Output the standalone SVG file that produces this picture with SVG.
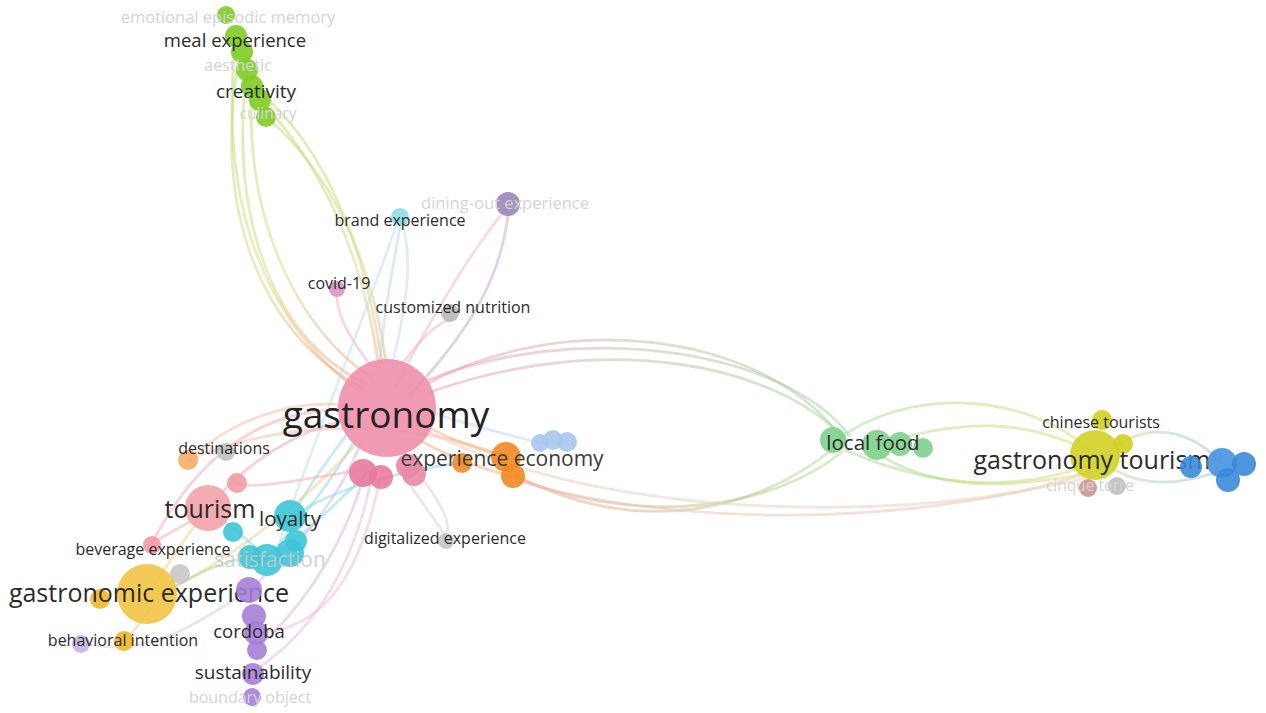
<svg xmlns="http://www.w3.org/2000/svg" width="1266" height="713" viewBox="0 0 1266 713">
<style>
.lbl{font-family:"Open Sans","Noto Sans","DejaVu Sans",sans-serif;fill:#2b2b2b;text-anchor:middle}
.fade{fill:#d4d4d4}
.e{fill:none;stroke-linecap:round;stroke-width:2.8;stroke-opacity:0.5}
.n{fill-opacity:0.9}
</style>
<defs>
<linearGradient id="gy" gradientUnits="userSpaceOnUse" x1="0" y1="90" x2="0" y2="400">
<stop offset="0" stop-color="#b9dc6a"/><stop offset="0.6" stop-color="#d9d88a"/><stop offset="1" stop-color="#f1a47e"/>
</linearGradient>
<linearGradient id="pg" gradientUnits="userSpaceOnUse" x1="420" y1="0" x2="850" y2="0">
<stop offset="0" stop-color="#ef9ab0"/><stop offset="1" stop-color="#9ed89a"/>
</linearGradient>
<linearGradient id="og" gradientUnits="userSpaceOnUse" x1="510" y1="0" x2="840" y2="0">
<stop offset="0" stop-color="#f0a090"/><stop offset="1" stop-color="#a6dc8e"/>
</linearGradient>
<linearGradient id="gt" gradientUnits="userSpaceOnUse" x1="840" y1="0" x2="1100" y2="0">
<stop offset="0" stop-color="#9edc96"/><stop offset="1" stop-color="#dcdc70"/>
</linearGradient>
<linearGradient id="tb" gradientUnits="userSpaceOnUse" x1="1100" y1="0" x2="1225" y2="0">
<stop offset="0" stop-color="#cfdc80"/><stop offset="1" stop-color="#8cc0ea"/>
</linearGradient>
</defs>
<rect width="1266" height="713" fill="#ffffff"/>
<g id="connectors">
<path class="e" stroke="url(#gy)" d="M240 52 C212 200 255 330 362 388"/>
<path class="e" stroke="url(#gy)" d="M247 70 C228 220 275 340 366 384"/>
<path class="e" stroke="url(#gy)" d="M252 86 C244 220 298 330 372 378"/>
<path class="e" stroke="url(#gy)" d="M236 36 C218 200 262 320 360 392"/>
<path class="e" stroke="url(#gy)" stroke-width="3.5" d="M260 100 C318 160 362 250 378 362"/>
<path class="e" stroke="url(#gy)" stroke-width="3.5" d="M266 117 C330 170 372 260 386 362"/>
<path class="e" stroke="url(#gy)" d="M252 86 C335 150 368 270 382 362"/>
<path class="e" stroke="url(#pg)" d="M425 385 C560 310 760 330 840 436"/>
<path class="e" stroke="url(#pg)" d="M428 380 C570 322 780 345 850 436"/>
<path class="e" stroke="url(#pg)" d="M430 392 C600 332 772 360 846 440"/>
<path class="e" stroke="url(#og)" d="M515 475 C640 540 760 510 835 447"/>
<path class="e" stroke="url(#og)" d="M515 478 C660 532 780 502 842 452"/>
<path class="e" stroke="#eac6b6" stroke-opacity="0.35" d="M515 480 C700 535 950 520 1090 472"/>
<path class="e" stroke="#e6cfc0" stroke-opacity="0.3" d="M425 430 C600 520 900 525 1085 478"/>
<path class="e" stroke="url(#gt)" d="M838 440 C900 390 1020 388 1090 450"/>
<path class="e" stroke="url(#gt)" d="M878 445 C960 418 1030 418 1095 455"/>
<path class="e" stroke="url(#gt)" d="M845 450 C940 492 1020 490 1090 465"/>
<path class="e" stroke="url(#gt)" d="M880 455 C950 500 1050 482 1100 470"/>
<path class="e" stroke="url(#tb)" d="M1110 450 C1150 420 1190 430 1222 463"/>
<path class="e" stroke="url(#tb)" d="M1115 470 C1150 490 1190 482 1222 470"/>
<path class="e" stroke="#c7a6cf" stroke-width="3.5" d="M410 395 C470 330 500 280 508 215"/>
<path class="e" stroke="#f0b8c8" d="M395 388 C440 300 480 240 505 210"/>
<path class="e" stroke="#b8d8ea" d="M380 362 C385 300 395 260 400 226"/>
<path class="e" stroke="#c8d8ec" d="M392 365 C408 300 412 260 403 226"/>
<path class="e" stroke="#f2b0c8" d="M370 365 C352 340 338 320 337 297"/>
<path class="e" stroke="#e8b8c8" d="M402 364 C420 340 438 322 450 320"/>
<path class="e" stroke="#bfe0ec" stroke-opacity="0.3" d="M396 226 C360 330 310 450 280 540"/>
<path class="e" stroke="#f2a0b0" d="M345 420 C300 430 250 460 215 500"/>
<path class="e" stroke="#f6bc98" d="M345 405 C290 400 230 420 190 460"/>
<path class="e" stroke="#f6bc98" d="M505 457 C430 425 300 412 190 460"/>
<path class="e" stroke="#8ad8e4" d="M350 430 C320 470 300 500 292 517"/>
<path class="e" stroke="#8ad8e4" d="M355 440 C320 500 290 530 270 555"/>
<path class="e" stroke="#8ad8e4" d="M462 463 C400 470 330 490 292 517"/>
<path class="e" stroke="#8ad8e4" d="M370 470 C340 500 300 540 265 560"/>
<path class="e" stroke="#d2b6e8" d="M360 445 C330 520 280 560 250 590"/>
<path class="e" stroke="#d2b6e8" d="M365 472 C340 560 290 620 255 650"/>
<path class="e" stroke="#e2bde0" d="M372 475 C352 580 302 640 255 670"/>
<path class="e" stroke="#f0b8d0" d="M380 478 C360 580 320 630 258 633"/>
<path class="e" stroke="#f0d08a" d="M355 445 C300 510 200 580 150 597"/>
<path class="e" stroke="#f4a8b4" d="M340 410 C250 410 190 470 152 543"/>
<path class="e" stroke="#f4a8b4" d="M360 470 C300 480 250 490 237 483"/>
<path class="e" stroke="#c6d2f0" d="M540 443 C490 430 450 420 432 412"/>
<path class="e" stroke="#f4b07a" d="M425 425 C450 440 480 450 505 457"/>
<path class="e" stroke="#f4b07a" d="M420 440 C445 455 480 468 513 477"/>
<path class="e" stroke="#d4d4d4" d="M400 470 C420 500 435 520 445 535"/>
<path class="e" stroke="#d4d4d4" d="M415 470 C440 500 450 520 447 532"/>
<path class="e" stroke="#d8c8e8" d="M82 643 C150 660 200 620 250 590"/>
<path class="e" stroke="#f0d08a" d="M147 597 C170 560 190 530 207 510"/>
<path class="e" stroke="#f0d08a" d="M125 642 C150 610 165 590 180 573"/>
<path class="e" stroke="#8ad8e4" d="M207 510 C230 525 250 540 267 560"/>
<path class="e" stroke="#a8dca0" d="M170 590 C200 570 230 560 260 555"/>
<path class="e" stroke="#f4a8b4" d="M152 543 C175 530 195 520 207 510"/>
</g>
<g id="n-green-top">
<circle class="n" cx="226" cy="15" r="9" fill="#80cc24"/>
<circle class="n" cx="236" cy="36" r="11" fill="#80cc24"/>
<circle class="n" cx="242" cy="52" r="11" fill="#80cc24"/>
<circle class="n" cx="247" cy="70" r="11" fill="#80cc24"/>
<circle class="n" cx="252" cy="86" r="11" fill="#80cc24"/>
<circle class="n" cx="260" cy="100" r="11" fill="#80cc24"/>
<circle class="n" cx="266" cy="117" r="10" fill="#80cc24"/>
<text class="lbl fade" x="228" y="23" font-size="16.5">emotional episodic memory</text>
<text class="lbl" x="235" y="47" font-size="18.5">meal experience</text>
<text class="lbl fade" x="238" y="71" font-size="16">aesthetic</text>
<text class="lbl" x="256" y="98" font-size="19">creativity</text>
<text class="lbl fade" x="268" y="119" font-size="15.5">culinary</text>
</g>
<g id="n-dining-out">
<circle class="n" cx="508" cy="204" r="12" fill="#9a86b8"/>
<text class="lbl fade" x="505" y="209" font-size="16.5">dining-out experience</text>
</g>
<g id="n-brand-experience">
<circle class="n" cx="400" cy="217" r="9" fill="#8fdbe8"/>
<text class="lbl" x="400" y="226" font-size="16">brand experience</text>
</g>
<g id="n-covid">
<circle class="n" cx="337" cy="289" r="8" fill="#dc94c4"/>
<text class="lbl" x="339" y="289" font-size="16">covid-19</text>
</g>
<g id="n-customized-nutrition">
<circle class="n" cx="450" cy="313" r="9" fill="#b8b8b8"/>
<text class="lbl" x="453" y="313" font-size="16">customized nutrition</text>
</g>
<g id="n-gastronomy">
<circle class="n" cx="387" cy="408" r="49" fill="#ef8fab"/>
<circle class="n" cx="363" cy="473" r="14" fill="#e97a9c"/>
<circle class="n" cx="381" cy="477" r="12" fill="#e97a9c"/>
<circle class="n" cx="408" cy="466" r="12" fill="#e88aa6"/>
<circle class="n" cx="414" cy="474" r="12" fill="#e88aa6"/>
<text class="lbl" x="386" y="428" font-size="37" style="fill:#222">gastronomy</text>
</g>
<g id="n-light-blue">
<circle class="n" cx="540" cy="443" r="9" fill="#aac6ee"/>
<circle class="n" cx="553" cy="440" r="10" fill="#aac6ee"/>
<circle class="n" cx="567" cy="442" r="10" fill="#aac6ee"/>
</g>
<g id="n-experience-economy">
<circle class="n" cx="462" cy="463" r="10" fill="#f28a20"/>
<circle class="n" cx="506" cy="457" r="15" fill="#f28a20"/>
<circle class="n" cx="513" cy="476" r="12" fill="#f28a20"/>
<text class="lbl" x="502" y="466" font-size="21" style="fill:#3a3a3a">experience economy</text>
</g>
<g id="n-digitalized">
<circle class="n" cx="446" cy="541" r="8" fill="#c4c4c4"/>
<text class="lbl" x="445" y="544" font-size="16">digitalized experience</text>
</g>
<g id="n-destinations">
<circle class="n" cx="188" cy="460" r="10" fill="#f4ad66"/>
<circle class="n" cx="226" cy="452" r="9" fill="#c0c0c0"/>
<text class="lbl" x="224" y="454" font-size="16">destinations</text>
</g>
<g id="n-tourism">
<circle class="n" cx="237" cy="483" r="10" fill="#f29aa4"/>
<circle class="n" cx="208" cy="508" r="23" fill="#f4a2aa"/>
<text class="lbl" x="210" y="518" font-size="25">tourism</text>
</g>
<g id="n-satisfaction">
<circle class="n" cx="250" cy="557" r="12" fill="#3ec5d8"/>
<circle class="n" cx="267" cy="560" r="16" fill="#3ec5d8"/>
<circle class="n" cx="290" cy="553" r="14" fill="#3ec5d8"/>
<circle class="n" cx="296" cy="541" r="11" fill="#3ec5d8"/>
<text class="lbl fade" x="270" y="567" font-size="21" style="fill:#c8c8c8;fill-opacity:0.85">satisfaction</text>
</g>
<g id="n-loyalty">
<circle class="n" cx="233" cy="532" r="10" fill="#3ec5d8"/>
<circle class="n" cx="290" cy="516" r="16" fill="#3ec5d8"/>
<text class="lbl" x="290" y="526" font-size="20.5">loyalty</text>
</g>
<g id="n-beverage">
<circle class="n" cx="152" cy="545" r="9" fill="#f09aa4"/>
<text class="lbl" x="153" y="555" font-size="16">beverage experience</text>
</g>
<g id="n-gastronomic-experience">
<circle class="n" cx="180" cy="574" r="10" fill="#c8c8c8"/>
<circle class="n" cx="100" cy="599" r="10" fill="#f0b824"/>
<circle class="n" cx="147" cy="594" r="30" fill="#f2c444"/>
<text class="lbl" x="149" y="602" font-size="25">gastronomic experience</text>
</g>
<g id="n-behavioral-intention">
<circle class="n" cx="81" cy="644" r="9" fill="#c8b2e4"/>
<circle class="n" cx="124" cy="641" r="10" fill="#f0b824"/>
<text class="lbl" x="123" y="646" font-size="16">behavioral intention</text>
</g>
<g id="n-cordoba">
<circle class="n" cx="249" cy="590" r="13" fill="#a67ed8"/>
<circle class="n" cx="254" cy="616" r="12" fill="#a67ed8"/>
<circle class="n" cx="256" cy="633" r="12" fill="#a67ed8"/>
<circle class="n" cx="257" cy="650" r="10" fill="#a67ed8"/>
<text class="lbl" x="249" y="638" font-size="18.5">cordoba</text>
</g>
<g id="n-sustainability">
<circle class="n" cx="253" cy="674" r="11" fill="#a67ed8"/>
<circle class="n" cx="252" cy="697" r="9" fill="#a67ed8"/>
<text class="lbl" x="253" y="679" font-size="19">sustainability</text>
<text class="lbl fade" x="250" y="703" font-size="16">boundary object</text>
</g>
<g id="n-local-food">
<circle class="n" cx="833" cy="440" r="13" fill="#7ed08c"/>
<circle class="n" cx="877" cy="445" r="15" fill="#7ed08c"/>
<circle class="n" cx="900" cy="444" r="12" fill="#7ed08c"/>
<circle class="n" cx="923" cy="448" r="10" fill="#7ed08c"/>
<text class="lbl" x="873" y="450" font-size="20.5">local food</text>
</g>
<g id="n-gastronomy-tourism">
<circle class="n" cx="1088" cy="488" r="9" fill="#d09494"/>
<circle class="n" cx="1117" cy="486" r="9" fill="#c0c0c0"/>
<circle class="n" cx="1102" cy="420" r="10" fill="#d0d01e"/>
<circle class="n" cx="1123" cy="444" r="10" fill="#d0d01e"/>
<circle class="n" cx="1095" cy="455" r="25" fill="#d2d226"/>
<text class="lbl fade" x="1090" y="491" font-size="15.5">cinque terre</text>
<text class="lbl" x="1101" y="428" font-size="16">chinese tourists</text>
<text class="lbl" x="1092" y="469" font-size="25">gastronomy tourism</text>
</g>
<g id="n-blue">
<circle class="n" cx="1191" cy="467" r="11" fill="#3a8ad8"/>
<circle class="n" cx="1222" cy="463" r="15" fill="#4592e0"/>
<circle class="n" cx="1228" cy="480" r="12" fill="#3a8ad8"/>
<circle class="n" cx="1244" cy="464" r="12" fill="#3a8ad8"/>
</g>
</svg>
